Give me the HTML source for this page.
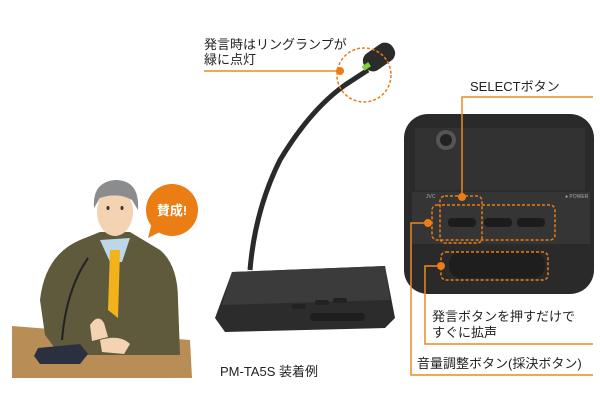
<!DOCTYPE html>
<html><head><meta charset="utf-8"><style>
html,body{margin:0;padding:0;background:#fff;width:600px;height:414px;overflow:hidden}
text{font-family:"Liberation Sans","Noto Sans CJK JP",sans-serif;fill:#222}
</style></head><body>
<svg width="600" height="414" viewBox="0 0 600 414" xmlns="http://www.w3.org/2000/svg">
<!-- man illustration -->
<polygon points="12,326 190,340 192,378 12,378" fill="#b98d56"/>
<path d="M40,300 Q45,255 80,240 L100,232 L130,232 L160,250 Q178,265 178,300 L180,355 L60,355 L45,335 Z" fill="#5f5a3c"/>
<polygon points="100,240 130,238 122,262 110,262" fill="#bcd6ea"/>
<polygon points="110,250 120,250 118,318 108,310" fill="#f2b21c"/>
<ellipse cx="115" cy="212" rx="18" ry="24" fill="#f4d3b2"/>
<path d="M94,208 Q92,182 115,180 Q140,180 138,210 L132,200 Q118,192 100,198 Z" fill="#8a8c8e"/>
<ellipse cx="108" cy="208" rx="1.5" ry="2" fill="#333"/><ellipse cx="122" cy="208" rx="1.5" ry="2" fill="#333"/>
<path d="M90,325 q8,-12 14,-2 l4,14 l-16,4 z" fill="#f4d3b2"/>
<path d="M100,340 q20,-6 30,4 l-6,10 l-22,-2 z" fill="#f4d3b2"/>
<path d="M62,340 Q66,290 88,258" stroke="#222" stroke-width="2" fill="none"/>
<polygon points="38,348 80,344 88,354 80,364 40,364 34,356" fill="#2a3040"/>
<circle cx="172" cy="210" r="26" fill="#ea7e14"/>
<polygon points="152,222 148,238 164,230" fill="#ea7e14"/>
<text x="172" y="215" font-size="13" font-weight="bold" text-anchor="middle" style="fill:#fff">賛成!</text>

<!-- microphone -->
<path d="M250,270 Q255,210 280,160 Q310,110 345,85 L368,70" stroke="#2a2a2a" stroke-width="5" fill="none"/>
<rect x="362" y="47" width="34" height="20" rx="9" transform="rotate(-35 379 57)" fill="#2b2b2b"/>
<rect x="362" y="64" width="8" height="5" transform="rotate(-35 366 66)" fill="#7fd13a"/>
<polygon points="232,272 385,266 395,318 385,328 225,332 215,318" fill="#2c2c2c"/>
<polygon points="232,272 385,266 390,300 222,305" fill="#3b3b3b"/>
<rect x="292" y="304" width="14" height="5" rx="2" fill="#222"/><rect x="315" y="300" width="14" height="5" rx="2" fill="#222"/><rect x="333" y="298" width="14" height="5" rx="2" fill="#222"/>
<rect x="310" y="313" width="55" height="8" rx="4" fill="#1e1e1e"/>
<text x="220" y="376" font-size="13">PM-TA5S 装着例</text>

<text x="204" y="49" font-size="13">発言時はリングランプが</text>
<text x="204" y="64" font-size="13">緑に点灯</text>
<line x1="204" y1="71" x2="340" y2="71" stroke="#ea8a24" stroke-width="1.5"/>
<circle cx="340" cy="71" r="4" fill="#ea7e14"/>
<circle cx="364" cy="75" r="27" fill="none" stroke="#ea7e14" stroke-width="1.5" stroke-dasharray="3,2"/>

<!-- control unit close-up -->
<rect x="404" y="114" width="190" height="180" rx="24" fill="#2a2a2a"/>
<rect x="415" y="128" width="170" height="62" fill="#333" opacity=".9"/>
<circle cx="446" cy="140" r="10" fill="#555"/><circle cx="446" cy="140" r="6" fill="#222"/>
<rect x="412" y="192" width="178" height="52" fill="#353535"/>
<text x="426" y="198" font-size="5" style="fill:#aaa">JVC</text>
<text x="565" y="198" font-size="5" style="fill:#aaa">● POWER</text>
<rect x="448" y="218" width="28" height="9" rx="4" fill="#1c1c1c"/>
<rect x="484" y="218" width="28" height="9" rx="4" fill="#1c1c1c"/>
<rect x="517" y="218" width="28" height="9" rx="4" fill="#1c1c1c"/>
<rect x="449" y="252" width="96" height="26" rx="12" fill="#1e1e1e"/>
<rect x="440" y="196" width="42" height="47" rx="5" fill="none" stroke="#ea7e14" stroke-width="1.5" stroke-dasharray="3,2"/>
<rect x="432" y="205" width="123" height="35" rx="5" fill="none" stroke="#ea7e14" stroke-width="1.5" stroke-dasharray="3,2"/>
<rect x="441" y="252" width="107" height="28" rx="5" fill="none" stroke="#ea7e14" stroke-width="1.5" stroke-dasharray="3,2"/>

<text x="470" y="91" font-size="13">SELECTボタン</text>
<polyline points="593,97 462,97 462,197" fill="none" stroke="#ea8a24" stroke-width="1.5"/>
<circle cx="462" cy="197" r="4" fill="#ea7e14"/>
<polyline points="428,223 411,223 411,375 593,375" fill="none" stroke="#ea8a24" stroke-width="1.5"/>
<circle cx="428" cy="223" r="4" fill="#ea7e14"/>
<polyline points="441,266 425,266 425,344 593,344" fill="none" stroke="#ea8a24" stroke-width="1.5"/>
<circle cx="441" cy="266" r="4" fill="#ea7e14"/>
<text x="432" y="321" font-size="13">発言ボタンを押すだけで</text>
<text x="432" y="337" font-size="13">すぐに拡声</text>
<text x="417" y="368" font-size="13">音量調整ボタン(採決ボタン)</text>
</svg>
</body></html>
